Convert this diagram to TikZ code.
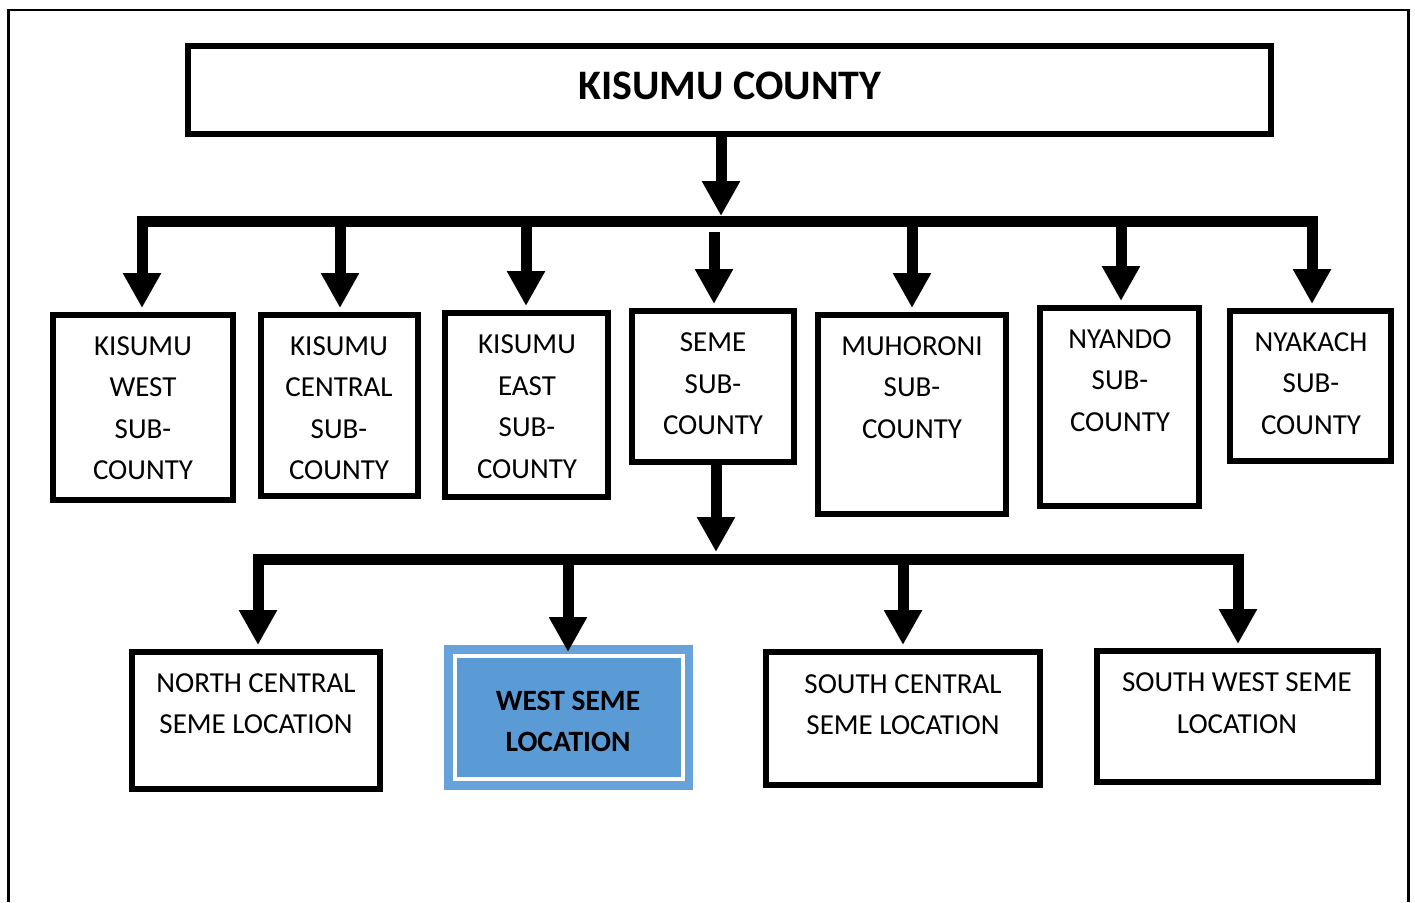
\documentclass[tikz,border=0pt]{standalone}
\usepackage{fontspec}
\setmainfont{Carlito}
\usetikzlibrary{arrows.meta}
\definecolor{wsblue}{RGB}{91,155,213}
\definecolor{wsrim}{RGB}{104,162,218}
\begin{document}
\begin{tikzpicture}[x=1pt,y=-1pt,
  box/.style={draw=black,line width=6pt,fill=white,inner sep=0pt},
  lbl/.style={font=\fontsize{29}{41.5}\selectfont,align=center,inner sep=0pt},
  arr/.style={line width=11pt,-{Triangle[width=36pt,length=35pt]},shorten >=4pt},
  bar/.style={line width=11pt}]
\useasboundingbox (0,0) rectangle (1415,902);
\draw[line width=2.5pt] (8.3,902) -- (8.3,10) -- (1408.5,10) -- (1408.5,902);

% title
\node[box,minimum width=1083pt,minimum height=88pt] (title) at (729.5,90) {};
\node[font=\fontsize{42}{50}\selectfont\bfseries,inner sep=0pt] (titlet) at (730,86) {KISUMU COUNTY};

% level 2 boxes
\node[box,minimum width=180pt,minimum height=185pt] (kw) at (143,407.5) {};
\node[box,minimum width=157pt,minimum height=181pt] (kc) at (339.5,405.5) {};
\node[box,minimum width=163pt,minimum height=184pt] (ke) at (526.5,405) {};
\node[box,minimum width=162pt,minimum height=151pt] (sm) at (713,386.5) {};
\node[box,minimum width=188pt,minimum height=199pt] (mu) at (912,414.5) {};
\node[box,minimum width=159pt,minimum height=198pt] (ny) at (1119.5,407) {};
\node[box,minimum width=161pt,minimum height=150pt] (nk) at (1310.5,386) {};

\node[lbl] (kwt) at (143,408) {KISUMU\\WEST\\SUB-\\COUNTY};
\node[lbl] (kct) at (339,408) {KISUMU\\CENTRAL\\SUB-\\COUNTY};
\node[lbl] (ket) at (527,406.5) {KISUMU\\EAST\\SUB-\\COUNTY};
\node[lbl] (smt) at (713,384) {SEME\\SUB-\\COUNTY};
\node[lbl] (mut) at (912,387.5) {MUHORONI\\SUB-\\COUNTY};
\node[lbl] (nyt) at (1120,380.5) {NYANDO\\SUB-\\COUNTY};
\node[lbl] (nkt) at (1311,383.5) {NYAKACH\\SUB-\\COUNTY};

% level 3 boxes
\node[box,minimum width=248pt,minimum height=137pt] (nc) at (256,720.5) {};
\fill[wsrim] (444,645) rectangle (693,790);
\node[draw=white,line width=4pt,fill=wsblue,inner sep=0pt,minimum width=228pt,minimum height=123pt] (ws) at (569,717.5) {};
\node[box,minimum width=274pt,minimum height=133pt] (sc) at (903,718.5) {};
\node[box,minimum width=281pt,minimum height=131pt] (sw) at (1237.5,716.5) {};

\node[lbl] (nct) at (256,703.5) {NORTH CENTRAL\\SEME LOCATION};
\node[lbl,font=\fontsize{29.5}{41.5}\selectfont\bfseries] (wst) at (568,721.5) {WEST SEME\\LOCATION};
\node[lbl] (sct) at (903,704.5) {SOUTH CENTRAL\\SEME LOCATION};
\node[lbl] (swt) at (1237,703) {SOUTH WEST SEME\\LOCATION};

% bar 1
\coordinate (b1) at (721,221);
\draw[bar] (136.5,221) -- (1317.5,221);
\draw[arr,shorten >=5pt] (title.south -| b1) -- (b1);
\draw[arr] (142,221) -- (kw.north -| 142,0);
\draw[arr] (340,221) -- (kc.north -| 340,0);
\draw[arr] (526,221) -- (ke.north -| 526,0);
\draw[arr] (714,232) -- (sm.north -| 714,0);
\draw[arr] (912,221) -- (mu.north -| 912,0);
\draw[arr] (1121,221) -- (ny.north -| 1121,0);
\draw[arr] (1312,221) -- (nk.north -| 1312,0);

% bar 2
\coordinate (b2) at (716,559);
\draw[bar] (252.5,559) -- (1243.5,559);
\draw[arr,shorten >=7pt] ([yshift=3pt]sm.south -| b2) -- (b2);
\draw[arr] (258,559) -- (nc.north -| 258,0);
\draw[arr,shorten >=2pt] (568,559) -- (ws.north -| 568,0);
\draw[arr] (903,559) -- (sc.north -| 903,0);
\draw[arr] (1238,564) -- (sw.north -| 1238,0);
\end{tikzpicture}
\end{document}
